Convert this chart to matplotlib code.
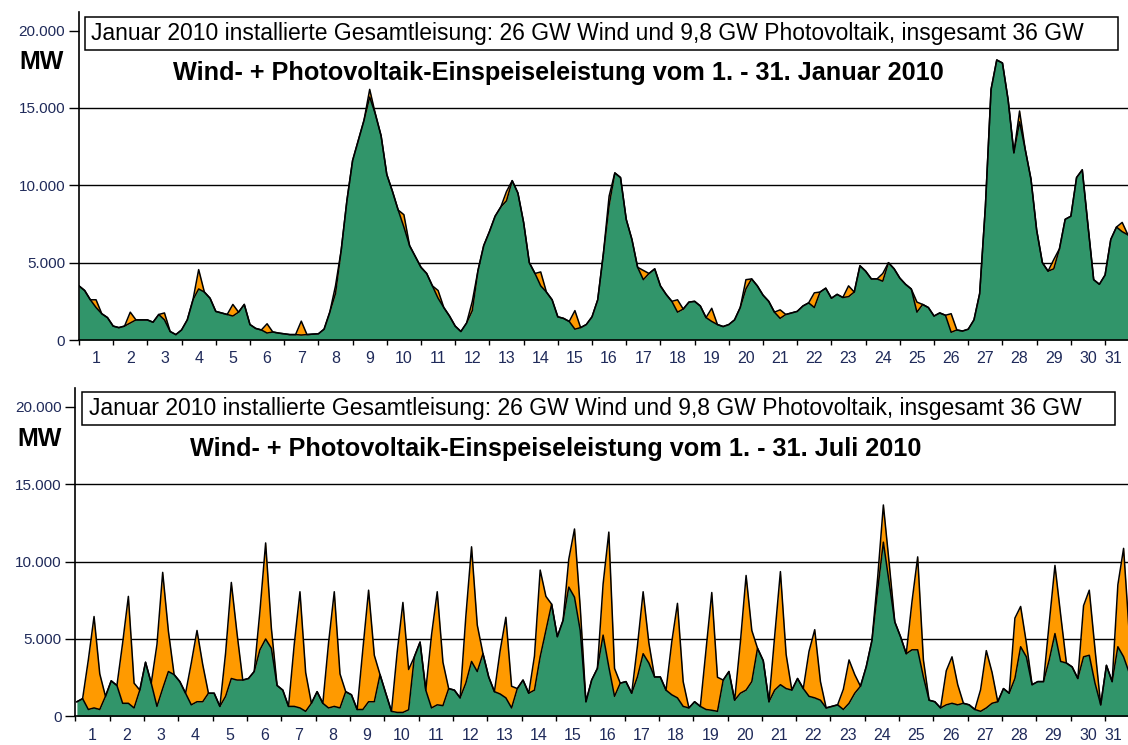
import numpy as np
import matplotlib.pyplot as plt
from matplotlib.patches import Rectangle
from matplotlib.ticker import FuncFormatter

plt.rcParams['font.family'] = ['Liberation Sans', 'DejaVu Sans']

# Data (MW), six samples per day
days = [str(d) for d in range(1, 32)]
jan_hours = [0, 4, 8, 12, 16, 20]
jul_hours = [1, 5, 9, 13, 17, 21]

jan_wind = [
    [3500, 3200, 2600, 2100, 1700, 1450],
    [900, 800, 900, 1100, 1300, 1300],
    [1300, 1150, 1650, 1300, 550, 350],
    [650, 1300, 2600, 3300, 3100, 2700],
    [1850, 1750, 1650, 1550, 1800, 2300],
    [1000, 750, 650, 450, 520, 450],
    [400, 350, 350, 320, 350, 380],
    [400, 700, 1800, 3000, 5800, 9000],
    [11600, 12900, 14200, 15700, 14600, 13200],
    [10700, 9600, 8400, 7300, 6100, 5400],
    [4700, 4300, 3500, 2700, 2100, 1550],
    [900, 550, 1100, 1900, 4500, 6100],
    [7000, 8000, 8600, 9000, 10300, 9500],
    [7600, 5000, 4300, 3500, 3100, 2600],
    [1500, 1400, 1200, 700, 800, 1000],
    [1500, 2600, 5600, 8700, 10800, 10500],
    [7800, 6500, 4700, 3900, 4300, 4600],
    [3500, 2950, 2500, 1800, 2000, 2450],
    [2500, 2200, 1450, 1200, 1000, 870],
    [1000, 1300, 2100, 3300, 3950, 3500],
    [2900, 2500, 1800, 1400, 1650, 1750],
    [1850, 2200, 2400, 2100, 3100, 3350],
    [2700, 2950, 2750, 2800, 3100, 4800],
    [4450, 3950, 3950, 3800, 5000, 4600],
    [4000, 3600, 3300, 1800, 2300, 2100],
    [1550, 1750, 1600, 500, 650, 580],
    [700, 1300, 3000, 8600, 16200, 18100],
    [17900, 15500, 12100, 14100, 12300, 10400],
    [7100, 5000, 4450, 4600, 5900, 7800],
    [8000, 10500, 11000, 7400, 3900, 3600],
    [4200, 6500, 7300, 7000, 6800, 6800],
]
jan_pv = [
    [0, 0, 0, 500, 0, 0], [0, 0, 0, 700, 0, 0], [0, 0, 0, 450, 0, 0],
    [0, 0, 0, 1250, 0, 0], [0, 0, 0, 750, 0, 0], [0, 0, 0, 600, 0, 0],
    [0, 0, 0, 900, 0, 0], [0, 0, 0, 500, 0, 0], [0, 0, 0, 500, 0, 0],
    [0, 0, 0, 800, 0, 0], [0, 0, 0, 500, 0, 0], [0, 0, 0, 600, 0, 0],
    [0, 0, 0, 600, 0, 0], [0, 0, 0, 900, 0, 0], [0, 0, 0, 1200, 0, 0],
    [0, 0, 0, 600, 0, 0], [0, 0, 0, 600, 0, 0], [0, 0, 0, 800, 0, 0],
    [0, 0, 0, 850, 0, 0], [0, 0, 0, 600, 0, 0], [0, 0, 0, 550, 0, 0],
    [0, 0, 0, 950, 0, 0], [0, 0, 0, 700, 0, 0], [0, 0, 0, 500, 0, 0],
    [0, 0, 0, 650, 0, 0], [0, 0, 0, 1200, 0, 0], [0, 0, 0, 0, 0, 0],
    [0, 0, 0, 700, 0, 0], [0, 0, 0, 600, 0, 0], [0, 0, 0, 0, 0, 0],
    [0, 0, 0, 600, 0, 0],
]

jul_wind = [
    [950, 1150, 450, 550, 450, 1300],
    [2300, 2000, 850, 850, 550, 1700],
    [3500, 2150, 650, 1800, 2900, 2700],
    [2250, 1500, 750, 950, 950, 1500],
    [1500, 650, 1300, 2450, 2350, 2350],
    [2450, 2900, 4300, 5000, 4400, 2000],
    [1700, 650, 650, 550, 330, 850],
    [1600, 850, 550, 650, 550, 1600],
    [1400, 450, 450, 950, 950, 2700],
    [1500, 330, 260, 260, 430, 3850],
    [4800, 1700, 550, 750, 700, 1800],
    [1700, 1200, 2150, 3550, 2900, 4050],
    [2550, 1600, 1450, 1200, 550, 1800],
    [2350, 1500, 1700, 3850, 5550, 7250],
    [5150, 6200, 8350, 7700, 5550, 950],
    [2350, 3100, 5250, 3200, 1300, 2150],
    [2250, 1500, 2550, 4050, 3450, 2550],
    [2550, 1700, 1400, 1200, 650, 550],
    [950, 650, 450, 400, 330, 2350],
    [2900, 1050, 1500, 1700, 2250, 4400],
    [3600, 950, 1700, 2050, 1800, 1700],
    [2450, 1800, 1300, 1200, 1050, 550],
    [650, 750, 450, 850, 1500, 1950],
    [3200, 4900, 8150, 11250, 8650, 6100],
    [5150, 4050, 4300, 4300, 2550, 1050],
    [950, 550, 750, 850, 750, 850],
    [750, 450, 330, 550, 850, 950],
    [1800, 1500, 2450, 4500, 3850, 2050],
    [2250, 2250, 3650, 5350, 3550, 3450],
    [3200, 2450, 3850, 3950, 2150, 750],
    [3300, 2250, 4500, 3850, 2800, 2500],
]
jul_pv = [
    [0, 0, 3200, 5900, 2300, 0], [0, 0, 3900, 6900, 1600, 0],
    [0, 0, 4000, 7500, 2600, 0], [0, 0, 2700, 4600, 2400, 0],
    [0, 0, 2800, 6200, 3000, 0], [0, 0, 2500, 6200, 1300, 0],
    [0, 0, 4000, 7500, 2500, 0], [0, 0, 4200, 7400, 2200, 0],
    [0, 0, 3900, 7200, 3000, 0], [0, 0, 3900, 7100, 2600, 0],
    [0, 0, 4700, 7300, 2800, 0], [0, 0, 4300, 7400, 3000, 0],
    [0, 0, 2800, 5200, 1400, 0], [0, 0, 2200, 5600, 2200, 0],
    [0, 0, 1800, 4400, 1500, 0], [0, 0, 3300, 8700, 1800, 0],
    [0, 0, 2000, 4000, 1300, 0], [0, 0, 3400, 6100, 1600, 0],
    [0, 0, 3900, 7600, 2200, 0], [0, 0, 3300, 7400, 3300, 0],
    [0, 0, 3500, 7300, 2200, 0], [0, 0, 2900, 4400, 1200, 0],
    [0, 0, 1300, 2800, 1200, 0], [0, 0, 800, 2400, 1300, 0],
    [0, 0, 3100, 6000, 1100, 0], [0, 0, 2200, 3000, 1300, 0],
    [0, 0, 1400, 3700, 2000, 0], [0, 0, 3900, 2600, 900, 0],
    [0, 0, 2400, 4400, 3000, 0], [0, 0, 3300, 4200, 2200, 0],
    [0, 0, 4000, 7000, 2500, 0],
]

y_ticks = [0, 5000, 10000, 15000, 20000]
grid_levels = [5000, 10000, 15000]

info_text = ("Januar 2010 installierte Gesamtleisung: 26 GW Wind und 9,8 GW "
             "Photovoltaik, insgesamt 36 GW")
title_jan = "Wind- + Photovoltaik-Einspeiseleistung vom 1. - 31. Januar 2010"
title_jul = "Wind- + Photovoltaik-Einspeiseleistung vom 1. - 31. Juli 2010"

GREEN = "#31956A"
ORANGE = "#FF9A00"
NAVY = "#1F2A5A"


def de_fmt(v, pos):
    return f"{v:,.0f}".replace(",", ".")


def draw_panel(ax, hours, wind, pv):
    t = (np.arange(len(days))[:, None] + np.array(hours)[None, :] / 24).ravel()
    w = np.array(wind, dtype=float).ravel()
    total = w + np.array(pv, dtype=float).ravel()

    for lvl in grid_levels:
        ax.axhline(lvl, color="black", lw=1.0, zorder=0)
    ax.fill_between(t, 0, w, color=GREEN, lw=0, zorder=1)
    ax.fill_between(t, w, total, color=ORANGE, lw=0, zorder=1)
    ax.plot(t, total, color="black", lw=1.1, zorder=2)
    ax.plot(t, w, color="black", lw=1.1, zorder=2)

    ax.set_xlim(t[0], 30.67)
    ax.set_ylim(0, 21200)

    # Axis styling
    for side in ["top", "right"]:
        ax.spines[side].set_visible(False)
    for side in ["left", "bottom"]:
        ax.spines[side].set_linewidth(1.2)
    ax.set_yticks(y_ticks)
    ax.yaxis.set_major_formatter(FuncFormatter(de_fmt))
    ax.tick_params(axis="y", direction="out", length=7, width=1,
                   labelsize=11, labelcolor=NAVY, pad=3)
    ax.set_xticks(np.arange(0, 31))
    ax.set_xticklabels([])
    ax.set_xticks(np.arange(len(days)) + 0.5, minor=True)
    ax.set_xticklabels(days, minor=True)
    ax.tick_params(axis="x", which="major", direction="out", length=3.5, width=1)
    ax.tick_params(axis="x", which="minor", length=0, pad=8,
                   labelsize=11.5, labelcolor=NAVY)
    # last day label sits at the right edge
    ax.get_xticklabels(minor=True)[-1].set_horizontalalignment("right")


fig = plt.figure(figsize=(11.28, 7.45), dpi=100)
ax1 = fig.add_axes([0.0700, 0.5436, 0.9300, 0.4403])
ax2 = fig.add_axes([0.0669, 0.0383, 0.9331, 0.4409])

draw_panel(ax1, jan_hours, jan_wind, jan_pv)
draw_panel(ax2, jul_hours, jul_wind, jul_pv)

# Info boxes, titles and unit labels
for (bx, by), tx in [((0.0754, 0.9329), 0.0807), ((0.0727, 0.4295), 0.0789)]:
    fig.patches.append(Rectangle((bx, by), 0.9158, 0.0443, transform=fig.transFigure,
                                 facecolor="white", edgecolor="black", lw=1.1, zorder=3))
    fig.text(tx, by + 0.0443 / 2, info_text, fontsize=16.5, ha="left", va="center",
             zorder=4)

fig.text(0.4947, 0.902, title_jan, fontsize=18.2, fontweight="bold",
         ha="center", va="center", zorder=4)
fig.text(0.4929, 0.3973, title_jul, fontsize=18.2, fontweight="bold",
         ha="center", va="center", zorder=4)
fig.text(0.0372, 0.9168, "MW", fontsize=18, fontweight="bold",
         ha="center", va="center", zorder=4)
fig.text(0.0355, 0.4107, "MW", fontsize=18, fontweight="bold",
         ha="center", va="center", zorder=4)

fig.savefig("out.png", dpi=100)
